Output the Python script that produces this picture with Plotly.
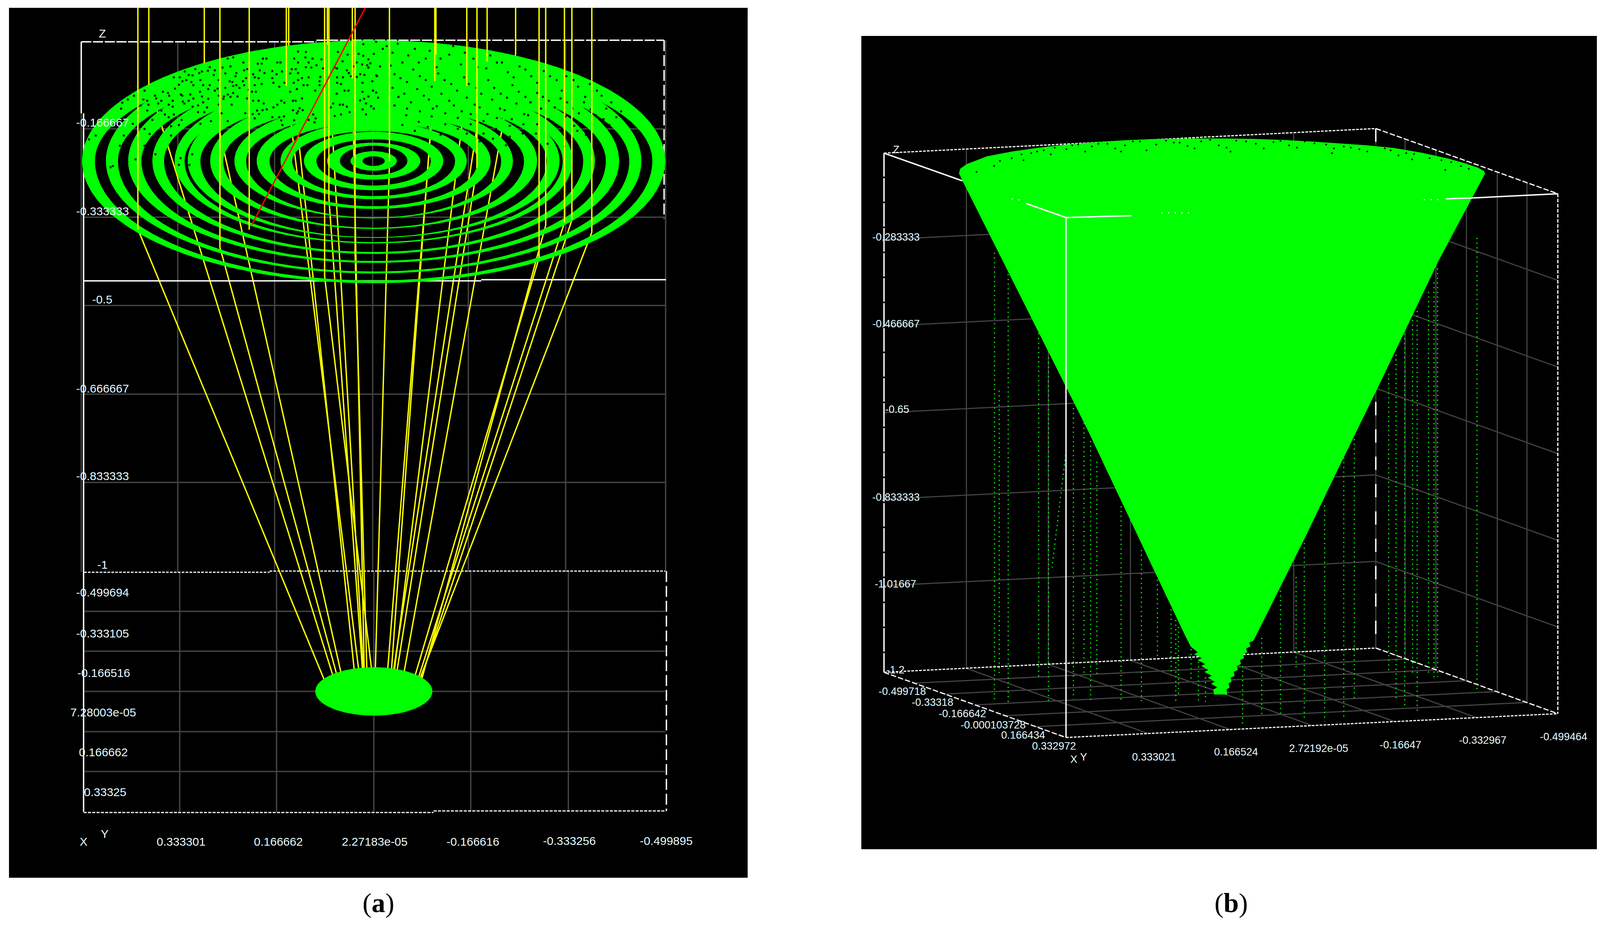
import numpy as np
import plotly.graph_objects as go

# Both panels are screenshots of a 3D viewer, so everything is read off in
# picture units: each panel gets its own pair of axes running over its own area.
WIDTH = 4120
HEIGHT = 2368
PAGE_MARGIN = 8  # the browser keeps this much around the plot
PANEL_A = [23, 1914, 20, 2247]
PANEL_B = [2205, 4100, 92, 2174]

GREEN = "#00ff00"
YELLOW = "#ffff00"
GREY = "#434343"
WHITE = "#ffffff"
LABEL = "#e6fbff"

# ---------- panel (a) data ----------
# Rings on the surface, outer ring first
ring_cx = 956.5
ring_cy = 412
ring_outer_rx = [746.5, 685.5, 628.5, 566.5, 509.5, 476, 418.5, 356.5, 299.5, 238.5, 178.5, 119.5, 59.5]
ring_outer_top = [103, 125.5, 149.5, 175, 199, 213, 237, 263, 286.5, 312, 337, 365, 387]
ring_outer_bottom = [725, 700, 673, 650, 623, 609, 586, 559, 535, 510, 487, 460, 437]
ring_inner_rx = [713.5, 654.5, 594.5, 536.5, 484, 443.5, 385, 326.5, 266.5, 208.5, 146.5, 86.5, 28.5]
ring_inner_top = [151, 172.5, 194.5, 215.5, 234.5, 249.5, 271, 292.5, 314.5, 335.5, 356.5, 373, 400]
ring_inner_bottom = [718, 695, 668, 645, 620, 607, 583, 557, 528, 502, 475, 448, 425]

# Focal spot
spot_cx = 957
spot_cy = 1770
spot_rx = 150
spot_ry = 62

# Rays: vertical down to the surface, then slanted to the focal spot
ray_x = [353, 381, 523, 563, 638, 733, 739, 831, 838, 842, 902, 909, 997, 1113, 1116, 1195, 1221, 1247, 1320, 1380, 1397, 1445, 1464, 1515]
ray_hit_y = [587, 217, 162, 633, 588, 220, 115, 707, 115, 507, 200, 650, 413, 207, 140, 220, 430, 157, 138, 660, 577, 570, 563, 595]
ray_end_x = [832, 857, 878, 867, None, 922, 910, 955, 932, 930, 933, 940, 960, 990, 1000, 1006, 1012, 1003, 1030, 1058, 1078, 1068, 1075, 1072]
ray_end_y = 1745
ray_top_y = 20

red_x = [645, 935]
red_y = [575, 20]

# Dark gaps in the solid part of the surface
speckles = [
    (327, 255), (343, 245), (367, 255), (370, 232), (397, 245), (417, 235), (430, 238), (445, 198), (460, 198),
    (493, 193), (500, 177), (537, 172), (550, 180), (570, 173), (583, 150), (473, 183), (510, 187), (532, 181),
    (483, 192), (517, 183), (590, 170), (597, 147), (467, 208), (477, 205), (490, 210), (513, 205), (547, 192),
    (560, 205), (577, 188), (588, 208), (458, 217), (448, 227), (495, 218), (520, 218), (537, 218), (557, 227),
    (577, 225), (597, 220), (463, 242), (487, 242), (512, 235), (533, 228), (550, 232), (573, 247), (590, 248),
    (400, 252), (433, 245), (467, 245), (495, 252), (517, 247), (533, 253), (560, 245), (572, 253), (377, 258),
    (413, 258), (442, 258), (468, 260), (483, 258), (520, 262), (360, 270), (380, 268), (405, 265), (432, 268),
    (442, 273), (472, 265), (493, 273), (507, 270), (530, 275), (560, 268), (583, 242), (310, 278), (313, 263),
    (377, 283), (413, 283), (445, 293), (507, 287), (523, 287), (567, 290), (390, 307), (422, 293), (432, 300),
    (465, 307), (540, 310), (583, 310), (340, 317), (370, 330), (438, 323), (458, 320), (513, 317), (245, 347),
    (317, 347), (228, 357), (438, 347), (383, 343), (307, 373), (370, 373), (398, 395), (347, 408), (482, 385),
    (492, 395), (462, 405), (458, 422), (485, 422), (479, 427), (289, 425), (283, 428),
    (623, 160), (633, 177), (665, 180), (673, 150), (682, 150), (660, 163), (670, 163), (710, 160), (718, 160),
    (753, 150), (763, 132), (783, 133), (782, 147), (800, 150), (823, 152), (747, 177), (757, 177), (763, 160),
    (790, 160), (783, 172), (797, 173), (810, 167), (827, 175), (605, 187), (625, 180), (648, 190), (677, 187),
    (697, 182), (722, 183), (743, 188), (763, 187), (790, 198), (820, 197), (603, 195), (630, 200), (652, 198),
    (662, 200), (697, 200), (708, 190), (773, 200), (595, 210), (605, 218), (622, 208), (625, 218), (652, 218),
    (670, 215), (700, 212), (715, 222), (728, 212), (752, 212), (763, 205), (777, 218), (787, 218), (818, 208),
    (818, 218), (613, 225), (637, 230), (760, 228), (807, 232), (645, 235), (655, 235), (743, 235), (597, 238),
    (608, 247), (632, 252), (648, 258), (662, 258), (675, 265), (710, 268), (720, 258), (728, 263), (750, 258),
    (757, 258), (773, 252), (593, 268), (700, 275), (750, 282), (767, 277), (763, 285), (775, 282), (658, 283),
    (672, 282), (683, 280), (628, 290), (647, 292), (663, 292), (727, 298), (760, 290), (802, 293), (715, 300),
    (697, 300), (652, 303), (753, 308), (720, 308), (808, 303), (723, 320), (805, 313), (790, 307),
    (863, 175), (877, 157), (865, 133), (890, 140), (918, 138), (930, 143), (957, 138), (980, 125), (930, 113),
    (963, 107), (943, 152), (927, 165), (940, 167), (948, 162), (973, 170), (943, 173), (907, 170), (857, 173),
    (913, 160), (888, 180), (893, 187), (933, 192), (963, 193), (922, 190), (863, 198), (878, 198), (898, 195),
    (913, 197), (953, 208), (928, 212), (863, 212), (873, 215), (928, 235), (955, 232), (963, 237), (882, 232),
    (892, 232), (862, 240), (943, 247), (968, 250), (932, 253), (922, 257), (853, 265), (870, 268), (878, 268),
    (937, 265), (950, 272), (888, 273), (847, 275), (957, 278), (928, 280), (895, 287), (873, 293), (937, 293),
    (857, 297), (965, 195),
    (1005, 135), (1030, 160), (1062, 125), (1090, 150), (1118, 172), (1150, 140), (1180, 165), (1212, 150),
    (1245, 175), (1272, 160), (1300, 185), (1330, 170), (1360, 195), (1392, 182), (1425, 205), (1450, 195),
    (1480, 222), (1510, 215), (1540, 245), (1565, 262), (1590, 285), (1010, 190), (1042, 210), (1075, 195),
    (1105, 222), (1138, 205), (1170, 232), (1200, 215), (1232, 240), (1265, 225), (1298, 250), (1328, 235),
    (1358, 262), (1390, 248), (1420, 275), (1452, 262), (1482, 290), (1512, 280), (1545, 305), (1020, 248),
    (1052, 262), (1085, 245), (1118, 272), (1150, 258), (1182, 285), (1215, 268), (1248, 292), (1280, 278),
    (1310, 305), (1342, 292), (1375, 318), (1405, 305), (1438, 330), (1470, 322), (1500, 345), (1040, 295),
    (1072, 312), (1105, 298), (1140, 318), (1172, 330), (1205, 318), (1238, 342), (1270, 330), (1305, 350),
    (1338, 342), (1402, 368), (1445, 375), (1480, 388),
    (990, 118), (1018, 112), (1045, 142), (1072, 160), (1100, 130), (1128, 150), (1160, 118), (1190, 135),
    (1222, 172), (1255, 142), (1285, 160), (1315, 198), (1345, 178), (1375, 212), (1408, 195), (1438, 232),
    (1468, 205), (1498, 248), (1528, 232), (1552, 278), (1578, 300), (1000, 168), (1025, 200), (1058, 178),
    (1090, 205), (1122, 188), (1155, 215), (1188, 198), (1220, 225), (1250, 205), (1282, 240), (1312, 218),
    (1345, 248), (1375, 238), (1405, 258), (1435, 252), (1465, 278), (1495, 262), (1525, 295), (1560, 320),
    (1005, 225), (1035, 240), (1068, 228), (1098, 255), (1130, 240), (1162, 270), (1195, 250), (1228, 275),
    (1260, 255), (1292, 282), (1322, 265), (1352, 295), (1385, 278), (1415, 312), (1448, 298), (1478, 335),
    (1010, 270), (1042, 278), (1075, 285), (1108, 278), (1140, 290), (1172, 302), (1205, 292), (1238, 310),
    (1272, 302), (1305, 322), (1340, 318), (1372, 342), (1030, 320), (1062, 335), (1095, 325), (1128, 345),
    (1160, 352), (1195, 342), (1228, 362), (1262, 355), (1295, 372),
]

# Grid lines
a_z_lines = [330, 556, 782, 1009, 1235]
a_floor_lines = [1565, 1667, 1770, 1873, 1975]
a_wall_x = [455, 703, 954, 1199, 1448]
a_floor_x = [460, 708, 957, 1205, 1455]

a_label_text = ["Z", "-0.166667", "-0.333333", "-0.5", "-0.666667", "-0.833333", "-1",
                "-0.499694", "-0.333105", "-0.166516", "7.28003e-05", "0.166662", "0.33325",
                "X", "Y", "0.333301", "0.166662", "2.27183e-05", "-0.166616", "-0.333256", "-0.499895"]
a_label_x = [262, 262, 262, 262, 262, 262, 262, 262, 262, 265, 264, 264, 269,
             214, 268, 463, 712, 959, 1210, 1457, 1705]
a_label_y = [86, 314, 541, 767, 995, 1219, 1446, 1517, 1622, 1723, 1824, 1926, 2028,
             2154, 2134, 2154, 2154, 2154, 2154, 2152, 2152]

# ---------- panel (b) data ----------
# Corners of the box, top then bottom
corner_left = [2263, 392, 1721]
corner_back = [3522, 329, 1659]
corner_right = [3988, 496, 1827]
corner_front = [2729, 557, 1888]

b_left_wall_x = [2474, 2684, 2894, 3105, 3312]
b_right_wall_x = [3597, 3676, 3754, 3833, 3909]

# Outline of the cone, clockwise from the left of the rim
cone_x = [2455, 2458, 2475, 2527, 2590, 2652, 2730, 2803, 2880, 2954, 3040, 3130, 3205, 3281, 3355, 3431, 3500, 3570,
          3640, 3708, 3750, 3783, 3798, 3802,
          3719, 3681, 3619, 3525, 3418, 3342, 3217,
          3209, 3198, 3201, 3190, 3193, 3182, 3185, 3174, 3177, 3166, 3169, 3158, 3161, 3150, 3153, 3145, 3148, 3140, 3142,
          3108, 3106, 3116, 3100, 3110, 3092, 3102, 3083, 3093, 3075, 3085, 3066, 3076, 3057, 3066, 3048, 3034, 2953, 2784, 2464]
cone_y = [444, 432, 420, 400, 388, 379, 370, 364, 359, 356, 354.5, 354.5, 355.5, 358, 362, 367.5, 372, 379,
          391, 406, 418, 429, 437, 444,
          600, 671, 801, 997, 1216, 1374, 1624,
          1640, 1645, 1655, 1660, 1670, 1675, 1685, 1690, 1700, 1705, 1715, 1720, 1730, 1735, 1745, 1750, 1760, 1765, 1778,
          1778, 1765, 1760, 1750, 1745, 1735, 1730, 1720, 1715, 1705, 1700, 1690, 1685, 1675, 1670, 1655, 1627, 1457, 1100, 463]

# Dark gaps along the rim
rim_speck_x = [2545, 2590, 2640, 2672, 2700, 2730, 2760, 2795, 2835, 2880, 2918, 2960, 3005, 3040, 3075, 3120, 3165, 3215,
               3260, 3300, 3340, 3395, 3440, 3480, 3520, 3560, 3600, 3640, 3690, 3740, 2500, 3700,
               2560, 2615, 2655, 2690, 2745, 2778, 2812, 2855, 2900, 2935, 2985, 3020, 3058, 3098, 3140, 3190, 3235, 3278,
               3320, 3365, 3415, 3458, 3500, 3545, 3580, 3620, 3660, 3715, 3760, 2620, 2870, 3150, 3410, 3615]
rim_speck_y = [425, 405, 392, 385, 378, 382, 370, 375, 368, 372, 362, 370, 365, 374, 362, 372, 360, 368,
               364, 372, 362, 370, 375, 382, 372, 385, 392, 388, 410, 425, 440, 435,
               412, 395, 388, 395, 372, 388, 368, 380, 362, 385, 360, 365, 380, 358, 378, 362, 380, 361,
               378, 367, 380, 378, 388, 380, 398, 394, 405, 415, 432, 410, 388, 388, 392, 408]

# Dotted rays below the surface
dot_x = [2546, 2558, 2581, 2659, 2684, 2748, 2775, 2792, 2808, 2870, 2922, 2963, 2998, 3010, 3017, 3049, 3068, 3086,
         3181, 3230, 3278, 3318, 3339, 3391, 3440, 3467, 3555, 3574, 3596, 3616, 3628, 3657, 3671, 3680, 3781]
dot_top = [647, 1000, 690, 853, 915, 1045, 1083, 1129, 1182, 1296, 1408, 1484, 1560, 1587, 1605, 1662, 1694, 1734,
           1705, 1633, 1512, 1477, 1390, 1294, 1171, 1124, 957, 908, 854, 819, 796, 747, 723, 687, 609]
dot_bottom = [1796, 1725, 1800, 1738, 1800, 1790, 1725, 1796, 1725, 1796, 1796, 1689, 1729, 1796, 1783, 1743, 1796, 1796,
              1856, 1829, 1829, 1709, 1838, 1847, 1843, 1789, 1722, 1796, 1812, 1729, 1825, 1727, 1740, 1733, 1771]
slant_x = [2728, 2693]
slant_y = [1165, 1453]

b_label_text = ["Z", "-0.283333", "-0.466667", "-0.65", "-0.833333", "-1.01667", "-1.2",
                "-0.499718", "-0.33318", "-0.166642", "-0.000103728", "0.166434", "0.332972",
                "X", "Y", "0.333021", "0.166524", "2.72192e-05", "-0.16647", "-0.332967", "-0.499464"]
b_label_x = [2294, 2294, 2294, 2297, 2294, 2292, 2292,
             2310, 2387, 2464, 2542, 2619, 2698,
             2749, 2774, 2954, 3164, 3376, 3585, 3796, 4003]
b_label_y = [383, 607, 829, 1048, 1273, 1495, 1715,
             1770, 1798, 1827, 1856, 1882, 1910,
             1944, 1938, 1938, 1925, 1916, 1907, 1895, 1886]


def join_segments(segments):
    # One trace per style, segments split by None
    xs, ys = [], []
    for seg_x, seg_y in segments:
        xs += list(seg_x) + [None]
        ys += list(seg_y) + [None]
    return xs, ys


def lines(fig, segments, color, width, panel, dash="solid"):
    xs, ys = join_segments(segments)
    fig.add_trace(go.Scatter(
        x=xs, y=ys, mode="lines",
        line=dict(color=color, width=width, dash=dash),
        xaxis="x" + panel, yaxis="y" + panel,
        hoverinfo="skip", showlegend=False,
    ))


def oval(cx, cy, rx, top, bottom):
    # Upper and lower half can have different heights
    t = np.linspace(0, 2 * np.pi, 241)
    s = np.sin(t)
    x = cx + rx * np.cos(t)
    y = cy + np.where(s < 0, s * (cy - top), s * (bottom - cy))
    return x.tolist(), y.tolist()


def split_wall(p0, p1, wall_x):
    # Vertical grid lines on a wall between two box corners
    segs = []
    for gx in wall_x:
        f = (gx - p0[0]) / (p1[0] - p0[0])
        segs.append(([gx, gx], [p0[1] + f * (p1[1] - p0[1]), p0[2] + f * (p1[2] - p0[2])]))
    return segs


def page_x(px):
    return (px - PAGE_MARGIN) / (WIDTH - 2 * PAGE_MARGIN)


def page_y(px):
    return 1 - (px - PAGE_MARGIN) / (HEIGHT - 2 * PAGE_MARGIN)


fig = go.Figure()

# ---------- panel (a) ----------
wall_top, wall_bottom = 107, 1464
floor_bottom = 2078
grid = []
for gy in a_z_lines + a_floor_lines:
    grid.append(([215, 1703], [gy, gy]))
for gx in a_wall_x:
    grid.append(([gx, gx], [wall_top, wall_bottom]))
for gx in a_floor_x:
    grid.append(([gx, gx], [wall_bottom, floor_bottom]))
grid.append(([208, 208], [290, 1464]))
grid.append(([1704, 1704], [103, 1462]))
lines(fig, grid, GREY, 3.5, "")

# Edges of the box
lines(fig, [([208, 810], [107, 107]), ([810, 1700], [103, 103])], WHITE, 3.5, "", dash="26px,4px")
lines(fig, [([208, 208], [107, 290]), ([214, 214], [290, 2078])], WHITE, 3.5, "")
lines(fig, [([1700, 1700], [103, 560]), ([1706, 1706], [1462, 2076])], WHITE, 3.5, "", dash="28px,10px")
lines(fig, [([215, 690], [1465, 1465]), ([690, 1703], [1462, 1462])], WHITE, 3, "", dash="7px,3px")
lines(fig, [([214, 1110], [2080, 2080]), ([1110, 1705], [2076, 2076])], WHITE, 3, "", dash="8px,3px")

# Slanted parts of the rays go under the surface
slanted = []
for rx0, ry0, rx1 in zip(ray_x, ray_hit_y, ray_end_x):
    if rx1 is not None:
        slanted.append(([rx0, rx1], [ry0, ray_end_y]))
lines(fig, slanted, YELLOW, 3.5, "")

# Front edge of the top face sits behind the rings
lines(fig, [([215, 1232], [719, 719]), ([1232, 1705], [716, 716])], WHITE, 3.5, "")

# Each band: outer oval plus inner oval run backwards, which leaves a hole
for i in range(len(ring_outer_rx)):
    ox, oy = oval(ring_cx, ring_cy, ring_outer_rx[i], ring_outer_top[i], ring_outer_bottom[i])
    ix, iy = oval(ring_cx, ring_cy, ring_inner_rx[i], ring_inner_top[i], ring_inner_bottom[i])
    fig.add_trace(go.Scatter(
        x=ox + [None] + ix[::-1], y=oy + [None] + iy[::-1],
        mode="lines", fill="toself", fillcolor=GREEN,
        line=dict(color=GREEN, width=0),
        hoverinfo="skip", showlegend=False,
    ))

fig.add_trace(go.Scatter(
    x=[p[0] for p in speckles], y=[p[1] for p in speckles], mode="markers",
    marker=dict(symbol="square", size=5, color="black", line=dict(width=0)),
    hoverinfo="skip", showlegend=False,
))

# Vertical parts of the rays and the red one are drawn over the surface
lines(fig, [([rx0, rx0], [ray_top_y, ry0]) for rx0, ry0 in zip(ray_x, ray_hit_y)], YELLOW, 3.5, "")
lines(fig, [(red_x, red_y)], "#ff0000", 3.5, "")

# Focal spot on the floor
sx, sy = oval(spot_cx, spot_cy, spot_rx, spot_cy - spot_ry, spot_cy + spot_ry)
fig.add_trace(go.Scatter(
    x=sx, y=sy, mode="lines", fill="toself", fillcolor=GREEN,
    line=dict(color=GREEN, width=0), hoverinfo="skip", showlegend=False,
))

# ---------- panel (b) ----------
left, back, right, front = corner_left, corner_back, corner_right, corner_front
grid = []
grid += split_wall(left, back, b_left_wall_x)
grid += split_wall(back, right, b_right_wall_x)
for k in range(1, 6):
    f = k / 6
    yl = left[1] + f * (left[2] - left[1])
    yb = back[1] + f * (back[2] - back[1])
    yr = right[1] + f * (right[2] - right[1])
    grid.append(([left[0], back[0], right[0]], [yl, yb, yr]))
    # floor, both directions
    ax0 = left[0] + f * (back[0] - left[0])
    ay0 = left[2] + f * (back[2] - left[2])
    grid.append(([ax0, ax0 + front[0] - left[0]], [ay0, ay0 + front[2] - left[2]]))
    bx0 = left[0] + f * (front[0] - left[0])
    by0 = left[2] + f * (front[2] - left[2])
    grid.append(([bx0, bx0 + back[0] - left[0]], [by0, by0 + back[2] - left[2]]))
grid.append(([back[0], back[0]], [back[1], back[2]]))
lines(fig, grid, GREY, 3, "2")

# Box edges behind the cone
lines(fig, [([back[0], back[0]], [back[1], back[2]])], WHITE, 3.5, "2", dash="34px,36px")
lines(fig, [([left[0], back[0]], [left[1], back[1]]), ([left[0], back[0]], [left[2], back[2]])], WHITE, 3, "2", dash="7px,3px")
lines(fig, [([back[0], right[0]], [back[1], right[1]]), ([back[0], right[0]], [back[2], right[2]]),
            ([left[0], front[0]], [left[2], front[2]])], WHITE, 3, "2", dash="14px,5px")
lines(fig, [([front[0], right[0]], [front[2], right[2]])], WHITE, 3, "2", dash="7px,3px")
lines(fig, [([left[0], left[0]], [left[1], left[2]])], WHITE, 3.5, "2", dash="60px,4px")
lines(fig, [([right[0], right[0]], [right[1], right[2]])], WHITE, 3, "2", dash="9px,4px")
lines(fig, [([left[0], 2464], [left[1], 463])], WHITE, 3.5, "2")

# Dotted rays
dotted = [([gx, gx], [t, b]) for gx, t, b in zip(dot_x, dot_top, dot_bottom)]
dotted.append((slant_x, slant_y))
lines(fig, dotted, GREEN, 3, "2", dash="3px,9px")

fig.add_trace(go.Scatter(
    x=cone_x, y=cone_y, mode="lines", fill="toself", fillcolor=GREEN,
    line=dict(color=GREEN, width=0), xaxis="x2", yaxis="y2",
    hoverinfo="skip", showlegend=False,
))
fig.add_trace(go.Scatter(
    x=rim_speck_x, y=rim_speck_y, mode="markers",
    marker=dict(symbol="square", size=4, color="black", line=dict(width=0)),
    xaxis="x2", yaxis="y2", hoverinfo="skip", showlegend=False,
))

# Box edges in front of the cone, with the broken bits that show through
front_edges = [
    ([front[0], front[0]], [front[1], front[2]]),
    ([2627, front[0], 2897], [521, front[1], 552]),
    ([3701, 3764, right[0]], [509, 507, right[1]]),
]
lines(fig, front_edges, WHITE, 3.5, "2")
lines(fig, [([2973, 3048], [545, 545]), ([3645, 3695], [511, 511]), ([2590, 2610], [509, 512])], WHITE, 3, "2", dash="3px,14px")

# ---------- labels ----------
annotations = []
for text, x, y in zip(a_label_text, a_label_x, a_label_y):
    annotations.append(dict(text=text, x=x, y=y, xref="x", yref="y", showarrow=False,
                            xanchor="center", yanchor="middle",
                            font=dict(family="Liberation Sans", size=30, color=LABEL)))
for text, x, y in zip(b_label_text, b_label_x, b_label_y):
    annotations.append(dict(text=text, x=x, y=y, xref="x2", yref="y2", showarrow=False,
                            xanchor="center", yanchor="middle",
                            font=dict(family="Liberation Sans", size=27, color=LABEL)))
for text, x in [("(<b>a</b>)", 969), ("(<b>b</b>)", 3152)]:
    annotations.append(dict(text=text, x=page_x(x), y=page_y(2311), xref="paper", yref="paper",
                            showarrow=False, xanchor="center", yanchor="middle",
                            font=dict(family="Liberation Serif", size=70, color="black")))

fig.update_layout(
    width=WIDTH - 2 * PAGE_MARGIN,
    height=HEIGHT - 2 * PAGE_MARGIN,
    margin=dict(l=0, r=0, t=0, b=0),
    paper_bgcolor="white",
    plot_bgcolor="black",
    showlegend=False,
    annotations=annotations,
    xaxis=dict(domain=[page_x(PANEL_A[0]), page_x(PANEL_A[1])], range=PANEL_A[:2], visible=False, fixedrange=True),
    yaxis=dict(domain=[page_y(PANEL_A[3]), page_y(PANEL_A[2])], range=[PANEL_A[3], PANEL_A[2]], visible=False, fixedrange=True),
    xaxis2=dict(domain=[page_x(PANEL_B[0]), page_x(PANEL_B[1])], range=PANEL_B[:2], visible=False, fixedrange=True),
    yaxis2=dict(domain=[page_y(PANEL_B[3]), page_y(PANEL_B[2])], range=[PANEL_B[3], PANEL_B[2]], visible=False, fixedrange=True),
)

fig.write_html("out.html")
